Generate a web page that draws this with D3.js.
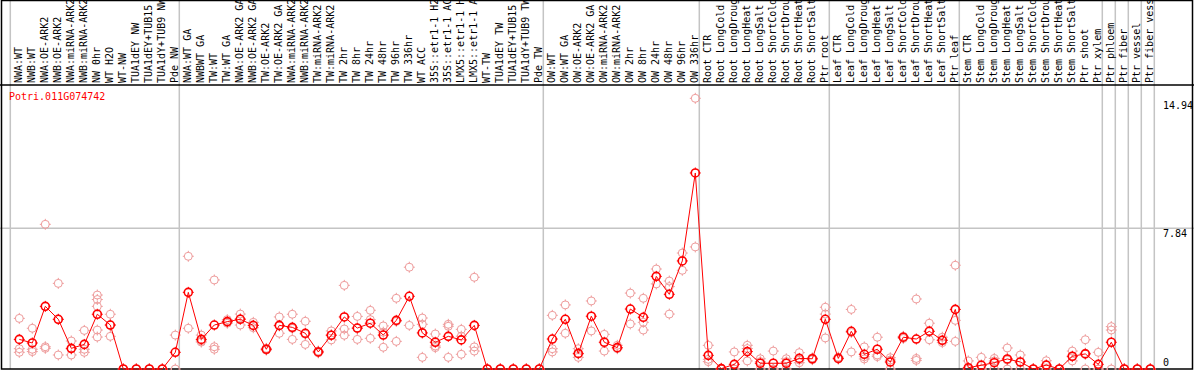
<!DOCTYPE html>
<html>
<head>
<meta charset="utf-8">
<script src="https://cdn.jsdelivr.net/npm/d3@7"></script>
<style>
  body { margin: 0; background: #fff; }
  text { font-family: "DejaVu Sans Mono", monospace; font-size: 10px; }
</style>
</head>
<body>
<div id="chart"></div>
<script>
const geneId = "Potri.011G074742";

const samples = [
  "NWA:WT", "NWB:WT", "NWA:OE-ARK2", "NWB:OE-ARK2", "NWA:miRNA-ARK2", "NWB:miRNA-ARK2",
  "NW 0hr", "WT H2O", "WT-NW", "TUA1dEY NW", "TUA1dEY+TUB15 NW", "TUA1dY+TUB9 NW", "Pde NW",
  "NWA:WT GA", "NWBWT GA", "TW:WT", "TW:WT GA", "NWA:OE-ARK2 GA", "NWB:OE-ARK2 GA",
  "TW:OE-ARK2", "TW:OE-ARK2 GA", "NWA:miRNA-ARK2 GA", "NWB:miRNA-ARK2 GA", "TW:miRNA-ARK2",
  "TW:miRNA-ARK2 GA", "TW 2hr", "TW 8hr", "TW 24hr", "TW 48hr", "TW 96hr", "TW 336hr", "WT ACC",
  "35S::etr1-1 H2O", "35S::etr1-1 ACC", "LMX5::etr1-1 H2O", "LMX5::etr1-1 ACC", "WT-TW",
  "TUA1dEY TW", "TUA1dEY+TUB15 TW", "TUA1dY+TUB9 TW", "Pde TW",
  "OW:WT", "OW:WT GA", "OW:OE-ARK2", "OW:OE-ARK2 GA", "OW:miRNA-ARK2", "OW:miRNA-ARK2 GA",
  "OW 2hr", "OW 8hr", "OW 24hr", "OW 48hr", "OW 96hr", "OW 336hr",
  "Root CTR", "Root LongCold", "Root LongDrought", "Root LongHeat", "Root LongSalt",
  "Root ShortCold", "Root ShortDrought", "Root ShortHeat", "Root ShortSalt", "Ptr root",
  "Leaf CTR", "Leaf LongCold", "Leaf LongDrought", "Leaf LongHeat", "Leaf LongSalt",
  "Leaf ShortCold", "Leaf ShortDrought", "Leaf ShortHeat", "Leaf ShortSalt", "Ptr leaf",
  "Stem CTR", "Stem LongCold", "Stem LongDrought", "Stem LongHeat", "Stem LongSalt",
  "Stem ShortCold", "Stem ShortDrought", "Stem ShortHeat", "Stem ShortSalt", "Ptr shoot",
  "Ptr xylem", "Ptr phloem", "Ptr fiber", "Ptr vessel", "Ptr fiber vessel"
];

// first sample of each group (a grey separator is drawn before it)
const groupStarts = ["NWA:WT", "NWA:WT GA", "OW:WT", "Root CTR", "Leaf CTR", "Stem CTR",
  "Ptr phloem", "Ptr fiber", "Ptr vessel", "Ptr fiber vessel"];

const means = [
  1.65, 1.45, 3.49, 2.77, 1.15, 1.37, 3.05, 2.45, 0, 0, 0, 0, 0.93,
  4.27, 1.65, 2.45, 2.64, 2.77, 2.43, 1.10, 2.43, 2.32, 1.99, 0.95, 1.88, 2.90, 2.28, 2.55,
  1.89, 2.71, 4.05, 2.01, 1.49, 1.82, 1.62, 2.43, 0, 0, 0, 0, 0,
  1.67, 2.77, 0.87, 2.94, 1.49, 1.19, 3.34, 2.88, 5.16, 4.16, 6.02, 10.92,
  0.76, 0.02, 0.26, 0.97, 0.32, 0.32, 0.32, 0.59, 0.57, 2.77,
  0.59, 2.10, 0.82, 1.10, 0.39, 1.77, 1.67, 2.10, 1.60, 3.32,
  0.07, 0.21, 0.35, 0.56, 0.39, 0, 0.22, 0, 0.71, 0.84, 0.26,
  1.49, 0, 0, 0
];

const reps = [
  [2.82, 1.13, 0.93], [2.27, 1.10, 0.97], [8.06, 1.24, 1.15], [4.77, 2.76, 0.78],
  [1.56, 1.11, 0.78], [2.15, 1.10, 0.93], [4.12, 3.87, 3.49, 2.17, 1.78], [3.05, 2.45, 1.82],
  [0, 0], [0, 0], [0, 0], [0, 0], [1.89, 0],
  [6.28, 2.27], [1.89, 1.56, 1.50], [4.96, 1.24, 1.10], [2.75, 2.62, 2.55], [3.06, 2.80, 2.45],
  [2.60, 2.43, 2.30], [1.15, 1.10, 1.05], [2.90, 2.40, 1.99], [3.05, 2.26, 1.65],
  [2.66, 1.94, 1.37], [1.00, 0.95, 0.90], [2.12, 1.90, 1.62], [4.66, 2.23, 1.88],
  [2.93, 2.26, 1.65], [3.27, 2.75, 1.71], [2.40, 2.05, 1.21], [3.94, 2.65, 1.54],
  [5.67, 2.43], [2.84, 2.49, 0.65], [1.95, 1.28, 1.19], [2.49, 2.38, 0.65],
  [2.21, 1.83, 0.82], [5.11, 1.23, 1.00], [0, 0], [0, 0], [0, 0], [0, 0], [0, 0],
  [2.99, 1.13, 0.95], [3.57, 1.99], [1.13, 0.83, 0.65], [3.79, 2.12], [1.93, 1.00],
  [1.32, 1.13], [4.23, 2.51], [3.94, 2.60, 2.17], [5.57, 4.74], [4.90, 4.59, 3.06],
  [6.46, 5.50], [15.08, 6.80],
  [1.32, 0.54, 0.41], [0.05, 0, 0], [0.95, 0, 0], [1.32, 1.14, 0.45], [0.57, 0.41, 0],
  [1.00, 0, 0], [0.57, 0.41, 0], [0.91, 0.50, 0.35], [0.62, 0.57, 0.52], [3.44, 3.06, 1.73],
  [0.66, 0.60, 0.55], [3.32, 2.03, 0.95], [1.23, 0.68, 0.56], [1.77, 0.78, 0.69],
  [0.63, 0.50, 0], [1.82, 1.77, 1.70], [3.90, 0.59, 0.48], [2.55, 2.10, 1.63],
  [1.77, 1.60, 1.47], [5.78, 2.71, 1.54],
  [0.45, 0, 0], [0.65, 0, 0], [0.59, 0.45, 0], [1.17, 0.50, 0], [0.78, 0.39, 0],
  [0, 0, 0], [0.46, 0.20, 0], [0, 0, 0], [1.00, 0.68, 0.45], [1.63, 0.88, 0], [0.93, 0, 0],
  [2.36, 2.17, 0], [0, 0, 0], [0, 0, 0], [0, 0, 0]
];

const yTicks = [0, 7.84, 14.94];
const yTickLabels = ["0", "7.84", "14.94"];
const yGrid = [7.84];

const width = 1194, height = 370;
const headerH = 85, bottom = 369;

const svg = d3.select("#chart")
    .append("svg")
    .attr("width", width)
    .attr("height", height);

let x = d3.scaleBand()
    .domain(samples)
    .range([10.3, 10.3 + 13 * samples.length])
    .paddingInner(0).paddingOuter(0);

let px = s => x(s) + 9;

let y = d3.scaleLinear()
    .domain([0, 15.08])
    .range([bottom, 98.3]);

// grid
svg.append("g").selectAll("line")
    .data(groupStarts.concat(["__end"]))
    .enter().append("line")
    .attr("x1", d => d === "__end" ? x.range()[1] : x(d))
    .attr("x2", d => d === "__end" ? x.range()[1] : x(d))
    .attr("y1", 0).attr("y2", bottom)
    .attr("stroke", "#c4c4c4").attr("stroke-width", 1.5);

svg.append("g").selectAll("line")
    .data(yGrid)
    .enter().append("line")
    .attr("x1", 0).attr("x2", width)
    .attr("y1", d => y(d)).attr("y2", d => y(d))
    .attr("stroke", "#c4c4c4").attr("stroke-width", 1.5);

// frame
svg.append("rect")
    .attr("x", 1.5).attr("y", 0.5)
    .attr("width", 1191).attr("height", bottom - 0.5)
    .attr("fill", "none").attr("stroke", "#000").attr("stroke-width", 1.5);
svg.append("line")
    .attr("x1", 0).attr("x2", width)
    .attr("y1", headerH).attr("y2", headerH)
    .attr("stroke", "#000").attr("stroke-width", 1.5);

// sample labels (vertical)
svg.append("g").selectAll("text")
    .data(samples)
    .enter().append("text")
    .attr("transform", d => "translate(" + (px(d) + 3) + "," + (headerH - 2) + ") rotate(-90)")
    .attr("fill", "#000")
    .text(d => d);

// y labels
svg.append("g").selectAll("text")
    .data(yTicks)
    .enter().append("text")
    .attr("x", 1163)
    .attr("y", (d, i) => i === 0 ? y(d) - 3 : y(d) + 8.5)
    .attr("fill", "#000")
    .text((d, i) => yTickLabels[i]);

// title
svg.append("text")
    .attr("x", 9).attr("y", 100)
    .attr("fill", "#ff0000")
    .text(geneId);

const marker = (g, color, sw) => {
    g.append("circle").attr("r", 4)
        .attr("fill", "none").attr("stroke", color).attr("stroke-width", sw);
    g.append("path")
        .attr("d", "M0,-5.5V-3.5M0,3.5V5.5M-5.5,0H-3.5M3.5,0H5.5")
        .attr("stroke", color).attr("stroke-width", 1);
};

// replicate points
let repPts = [];
samples.forEach((s, i) => reps[i].forEach(v => repPts.push({ s: s, v: v })));

svg.append("g").selectAll("g")
    .data(repPts)
    .enter().append("g")
    .attr("transform", d => "translate(" + px(d.s) + "," + y(d.v) + ")")
    .each(function () { marker(d3.select(this), "#ee9c9c", 1); });

// mean line
let line = d3.line()
    .x((d, i) => px(samples[i]))
    .y(d => y(d));

svg.append("path")
    .datum(means)
    .attr("d", line)
    .attr("fill", "none")
    .attr("stroke", "#ff0000")
    .attr("stroke-width", 1);

svg.append("g").selectAll("g")
    .data(means)
    .enter().append("g")
    .attr("transform", (d, i) => "translate(" + px(samples[i]) + "," + y(d) + ")")
    .each(function () { marker(d3.select(this), "#ff0000", 1.6); });
</script>
</body>
</html>
